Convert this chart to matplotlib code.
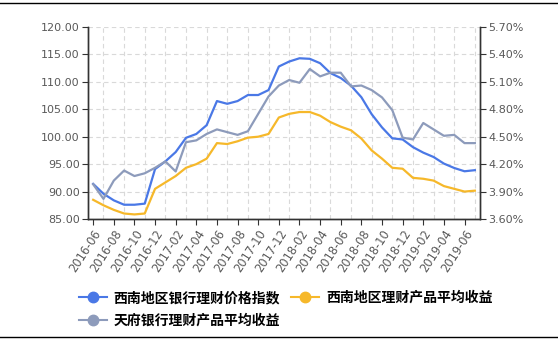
import matplotlib
matplotlib.use("Agg")
import matplotlib.pyplot as plt
from matplotlib.lines import Line2D
import numpy as np

plt.rcParams['font.family'] = ['DejaVu Sans', 'Noto Sans CJK SC']

# 2016-06 .. 2019-07, monthly
months = [f"{2016 + (5 + i) // 12}-{(5 + i) % 12 + 1:02d}" for i in range(38)]

# 西南地区银行理财价格指数 (left axis)
index_sw = [91.4, 89.6, 88.4, 87.6, 87.6, 87.8, 94.1, 95.5, 97.2, 99.8,
            100.5, 102.1, 106.5, 106.0, 106.5, 107.6, 107.6, 108.5, 112.8, 113.7,
            114.3, 114.2, 113.4, 111.6, 110.7, 109.3, 107.2, 104.1, 101.7, 99.7,
            99.5, 98.1, 97.1, 96.3, 95.1, 94.3, 93.7, 93.9]

# 西南地区理财产品平均收益 (%, right axis)
yield_sw = [3.81, 3.75, 3.70, 3.66, 3.65, 3.66, 3.93, 4.00, 4.07, 4.16,
            4.20, 4.26, 4.43, 4.42, 4.45, 4.49, 4.50, 4.53, 4.71, 4.75,
            4.77, 4.77, 4.73, 4.66, 4.61, 4.57, 4.48, 4.35, 4.26, 4.16,
            4.15, 4.05, 4.04, 4.02, 3.96, 3.93, 3.90, 3.91]

# 天府银行理财产品平均收益 (%, right axis)
yield_tf = [3.98, 3.82, 4.02, 4.13, 4.07, 4.10, 4.16, 4.23, 4.12, 4.44,
            4.46, 4.53, 4.58, 4.55, 4.52, 4.56, 4.75, 4.94, 5.06, 5.12,
            5.09, 5.24, 5.16, 5.20, 5.20, 5.05, 5.06, 5.01, 4.93, 4.79,
            4.49, 4.47, 4.65, 4.58, 4.51, 4.52, 4.43, 4.43]

labels = ["西南地区银行理财价格指数", "天府银行理财产品平均收益", "西南地区理财产品平均收益"]
c_blue, c_gray, c_yellow = "#4a78e6", "#8d9bbb", "#f6b82a"
tick_color = "#595959"
axis_color = "#333333"

fig = plt.figure(figsize=(5.58, 3.40), dpi=100)
ax = fig.add_axes([88 / 558, 1 - 219 / 340, (480 - 88) / 558, (219 - 27) / 340])
ax2 = ax.twinx()

x = np.arange(len(months))
ax.plot(x, index_sw, color=c_blue, lw=1.6, zorder=3)
ax2.plot(x, yield_tf, color=c_gray, lw=1.6, zorder=3)
ax2.plot(x, yield_sw, color=c_yellow, lw=1.6, zorder=3)

ax.set_xlim(-0.5, len(months) - 0.5)
ax.set_ylim(85, 120)
ax.set_yticks(np.arange(85, 120.1, 5))
ax.set_yticklabels([f"{v:.2f}" for v in np.arange(85, 120.1, 5)])
ax2.set_ylim(3.6, 5.7)
ax2.set_yticks(np.arange(3.6, 5.71, 0.3))
ax2.set_yticklabels([f"{v:.2f}%" for v in np.arange(3.6, 5.71, 0.3)])

ax.set_xticks(x[::2])
ax.set_xticklabels(months[::2], rotation=57, ha="right", rotation_mode="anchor")
ax.set_xticks(x[1::2], minor=True)

ax.grid(False)
ax.grid(axis="y", which="major", color="#d9d9d9", ls=(0, (4, 3)), lw=0.8)
ax.grid(axis="x", which="minor", color="#d9d9d9", ls=(0, (4, 3)), lw=0.8)
ax.tick_params(axis="x", which="minor", length=0)
ax.tick_params(axis="x", which="major", length=4, color=axis_color, labelsize=8.3,
               labelcolor=tick_color, pad=2)
ax.tick_params(axis="y", length=4, color=axis_color, labelsize=8, labelcolor=tick_color, pad=2)
ax2.tick_params(axis="y", length=4, color=axis_color, labelsize=8, labelcolor=tick_color, pad=2)

for a in (ax, ax2):
    a.spines["top"].set_visible(False)
    for s in ("left", "right", "bottom"):
        a.spines[s].set_color(axis_color)
        a.spines[s].set_linewidth(1.0)

handles = [
    Line2D([], [], color=c_blue, lw=1.5, marker="o", ms=7.5),
    Line2D([], [], color=c_gray, lw=1.5, marker="o", ms=7.5),
    Line2D([], [], color=c_yellow, lw=1.5, marker="o", ms=7.5),
]
fig.legend(handles, labels, ncol=2, loc="upper left", bbox_to_anchor=(68 / 558, 1 - 280 / 340),
           frameon=False, handlelength=2.0, handletextpad=0.5, columnspacing=0.8,
           labelspacing=0.65, borderpad=0.3,
           prop={"family": ["Noto Sans CJK SC", "DejaVu Sans"], "size": 10, "weight": "bold"})

# page border lines
fig.add_artist(Line2D([0, 1], [1 - 3 / 340] * 2, color="black", lw=1.0))
fig.add_artist(Line2D([0, 1], [1 - 337 / 340] * 2, color="black", lw=1.0))

fig.savefig("out.png", dpi=100)
